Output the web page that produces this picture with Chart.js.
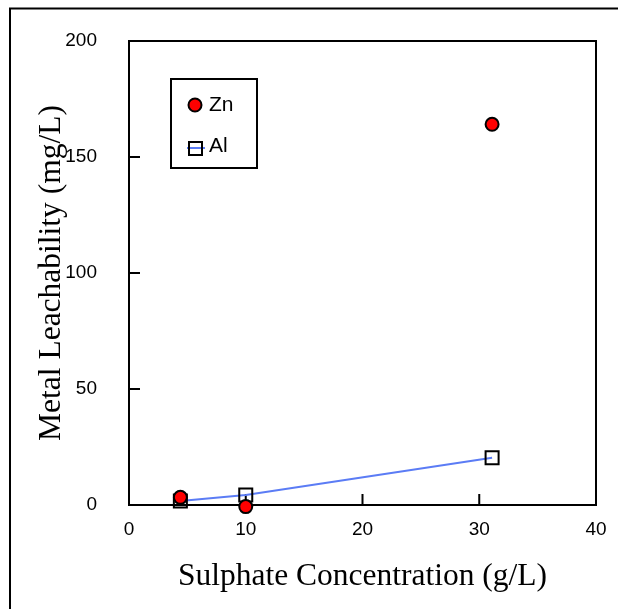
<!DOCTYPE html>
<html>
<head>
<meta charset="utf-8">
<script src="https://cdn.jsdelivr.net/npm/chart.js@4"></script>
<style>
  html, body { margin: 0; padding: 0; background: #fff; }
  canvas { display: block; }
</style>
</head>
<body>
<canvas id="chart" width="618" height="609"></canvas>
<script>
// Data
const seriesNames = ['Zn', 'Al'];
const znX = [4.4, 10, 31.1];
const znY = [3.3, -0.7, 164.1];
const alX = [4.4, 10, 31.1];
const alY = [1.7, 4.3, 20.4];
const xTicks = [0, 10, 20, 30, 40];
const yTicks = [0, 50, 100, 150, 200];

const toPoints = (xs, ys) => xs.map((x, i) => ({ x: x, y: ys[i] }));

const tickFont = { family: 'Liberation Sans, Arial, sans-serif', size: 19 };
const titleFont = { family: 'Liberation Serif, Times New Roman, serif', size: 31.5 };
const alBlue = '#5b7cf5';

// page frame, plot box and inward tick marks
const framePlugin = {
    id: 'frame',
    beforeDraw(chart) {
        const ctx = chart.ctx;
        ctx.save();
        ctx.fillStyle = '#fff';
        ctx.fillRect(0, 0, chart.width, chart.height);
        ctx.strokeStyle = '#000';
        ctx.lineWidth = 2;
        ctx.beginPath();
        ctx.moveTo(10, 609);
        ctx.lineTo(10, 8.5);
        ctx.lineTo(618, 8.5);
        ctx.stroke();
        ctx.restore();
    },
    beforeDatasetsDraw(chart) {
        const { ctx, chartArea: a, scales } = chart;
        ctx.save();
        ctx.strokeStyle = '#000';
        ctx.lineWidth = 2;
        ctx.strokeRect(a.left, a.top, a.right - a.left, a.bottom - a.top);
        ctx.beginPath();
        xTicks.forEach(v => {
            const px = scales.x.getPixelForValue(v);
            ctx.moveTo(px, a.bottom);
            ctx.lineTo(px, a.bottom - 11);
        });
        yTicks.forEach(v => {
            const py = scales.y.getPixelForValue(v);
            ctx.moveTo(a.left, py);
            ctx.lineTo(a.left + 11, py);
        });
        ctx.stroke();
        ctx.restore();
    }
};

// boxed legend inside the plot
const legendPlugin = {
    id: 'boxLegend',
    afterDraw(chart) {
        const ctx = chart.ctx;
        ctx.save();
        ctx.strokeStyle = '#000';
        ctx.lineWidth = 2;
        ctx.strokeRect(171, 79, 86, 89);

        // Zn marker
        ctx.beginPath();
        ctx.arc(195, 105, 6.5, 0, Math.PI * 2);
        ctx.fillStyle = '#ff0000';
        ctx.fill();
        ctx.stroke();

        // Al marker with line
        ctx.strokeStyle = alBlue;
        ctx.beginPath();
        ctx.moveTo(187, 148);
        ctx.lineTo(205, 148);
        ctx.stroke();
        ctx.strokeStyle = '#000';
        ctx.strokeRect(189, 142, 13, 13);

        ctx.fillStyle = '#000';
        ctx.font = '21px Liberation Sans, Arial, sans-serif';
        ctx.textBaseline = 'middle';
        ctx.fillText(seriesNames[0], 209, 105);
        ctx.fillText(seriesNames[1], 209, 146);
        ctx.restore();
    }
};

new Chart(document.getElementById('chart'), {
    type: 'scatter',
    data: {
        datasets: [
            {
                label: seriesNames[0],
                data: toPoints(znX, znY),
                showLine: false,
                pointStyle: 'circle',
                pointRadius: 6.5,
                pointBackgroundColor: '#ff0000',
                pointBorderColor: '#000',
                pointBorderWidth: 2,
                order: 0,
                clip: false
            },
            {
                label: seriesNames[1],
                data: toPoints(alX, alY),
                showLine: true,
                borderColor: alBlue,
                borderWidth: 2,
                pointStyle: 'rect',
                pointRadius: 9.2,
                pointBackgroundColor: 'rgba(0,0,0,0)',
                pointBorderColor: '#000',
                pointBorderWidth: 2,
                order: 1,
                clip: false
            }
        ]
    },
    options: {
        responsive: false,
        animation: false,
        layout: { padding: { left: 0, top: 41, right: 22, bottom: 0 } },
        plugins: {
            legend: { display: false },
            tooltip: { enabled: false }
        },
        scales: {
            x: {
                type: 'linear',
                min: 0,
                max: 40,
                afterFit: s => { s.height = 104; },
                afterBuildTicks: s => { s.ticks = xTicks.map(v => ({ value: v })); },
                grid: { display: false },
                border: { display: false },
                ticks: { color: '#000', font: tickFont, padding: 5, maxRotation: 0 },
                title: {
                    display: true,
                    text: 'Sulphate Concentration (g/L)',
                    color: '#000',
                    font: titleFont,
                    padding: { top: 0, bottom: 13 }
                }
            },
            y: {
                type: 'linear',
                min: 0,
                max: 200,
                afterFit: s => { s.width = 129; },
                afterBuildTicks: s => { s.ticks = yTicks.map(v => ({ value: v })); },
                grid: { display: false },
                border: { display: false },
                ticks: { color: '#000', font: tickFont, padding: 24 },
                title: {
                    display: true,
                    text: 'Metal Leachability (mg/L)',
                    color: '#000',
                    font: titleFont,
                    padding: { top: 33, bottom: 0 }
                }
            }
        }
    },
    plugins: [framePlugin, legendPlugin]
});
</script>
</body>
</html>
